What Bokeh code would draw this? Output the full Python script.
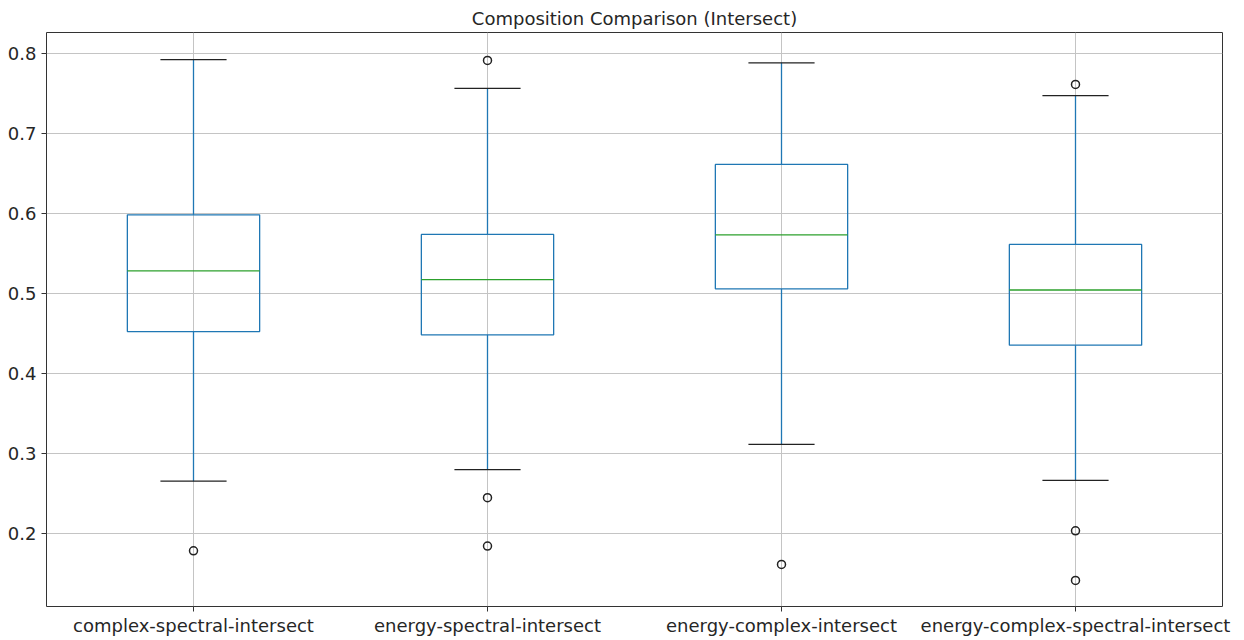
from bokeh.plotting import figure
from bokeh.models import FixedTicker, Range1d, ColumnDataSource
from bokeh.embed import file_html
from bokeh.resources import INLINE

categories = ["complex-spectral-intersect", "energy-spectral-intersect",
              "energy-complex-intersect", "energy-complex-spectral-intersect"]
q1 = [0.452, 0.448, 0.5055, 0.435]
median = [0.528, 0.517, 0.573, 0.504]
q3 = [0.598, 0.5735, 0.661, 0.561]
whisker_low = [0.265, 0.2796, 0.311, 0.266]
whisker_high = [0.792, 0.756, 0.788, 0.747]
outliers = [[0.178], [0.791, 0.2444, 0.184], [0.161], [0.761, 0.203, 0.141]]
y_ticks = [0.2, 0.3, 0.4, 0.5, 0.6, 0.7, 0.8]

positions = list(range(1, len(categories) + 1))
box_w = 0.45
cap_w = box_w / 4

BLUE = "#1f77b4"
GREEN = "#2ca02c"
FONT = "DejaVu Sans"

p = figure(frame_width=1176, frame_height=574, output_backend="svg",
           toolbar_location=None, min_border_left=46, min_border_right=22,
           min_border_top=32, min_border_bottom=34,
           x_range=Range1d(0.5, 4.5), y_range=Range1d(0.1084, 0.8259),
           title="Composition Comparison (Intersect)")
p.title.align = "center"
p.title.text_font = FONT
p.title.text_font_size = "18px"
p.title.text_font_style = "normal"
p.title.text_color = "#262626"
p.title.standoff = 8

p.background_fill_color = "white"
p.border_fill_color = "white"
p.outline_line_color = "#333333"
p.outline_line_width = 1

for ax in (p.xaxis[0], p.yaxis[0]):
    ax.axis_line_color = None
    ax.major_tick_line_color = "#333333"
    ax.major_tick_out = 5
    ax.major_tick_in = 0
    ax.minor_tick_line_color = None
    ax.major_label_text_font = FONT
    ax.major_label_text_font_size = "18px"
    ax.major_label_text_color = "#262626"
    ax.major_label_standoff = 5
p.xaxis.major_label_standoff = 3

p.xaxis.ticker = FixedTicker(ticks=positions)
p.xaxis.major_label_overrides = {pos: c for pos, c in zip(positions, categories)}
p.yaxis.ticker = FixedTicker(ticks=y_ticks)
p.yaxis.major_label_overrides = {t: f"{t:.1f}" for t in y_ticks}

p.xgrid.grid_line_color = "#c4c4c4"
p.ygrid.grid_line_color = "#c4c4c4"
p.xgrid.grid_line_width = 1
p.ygrid.grid_line_width = 1

src = ColumnDataSource(dict(
    x=positions,
    left=[x - box_w / 2 for x in positions],
    right=[x + box_w / 2 for x in positions],
    cl=[x - cap_w for x in positions],
    cr=[x + cap_w for x in positions],
    q1=q1, med=median, q3=q3, lo=whisker_low, hi=whisker_high,
))

p.segment(x0="x", y0="q3", x1="x", y1="hi", source=src, line_color=BLUE, line_width=1.3)
p.segment(x0="x", y0="q1", x1="x", y1="lo", source=src, line_color=BLUE, line_width=1.3)
p.segment(x0="cl", y0="hi", x1="cr", y1="hi", source=src, line_color="#222222", line_width=1.3)
p.segment(x0="cl", y0="lo", x1="cr", y1="lo", source=src, line_color="#222222", line_width=1.3)
p.quad(left="left", right="right", bottom="q1", top="q3", source=src,
       fill_color=None, line_color=BLUE, line_width=1.3)
p.segment(x0="left", y0="med", x1="right", y1="med", source=src, line_color=GREEN, line_width=1.3)

ox, oy = [], []
for pos, vals in zip(positions, outliers):
    for v in vals:
        ox.append(pos)
        oy.append(v)
p.scatter(ox, oy, marker="circle", size=8, fill_color=None,
          line_color="#222222", line_width=1.5)

open("out.html", "w").write(file_html(p, INLINE))
